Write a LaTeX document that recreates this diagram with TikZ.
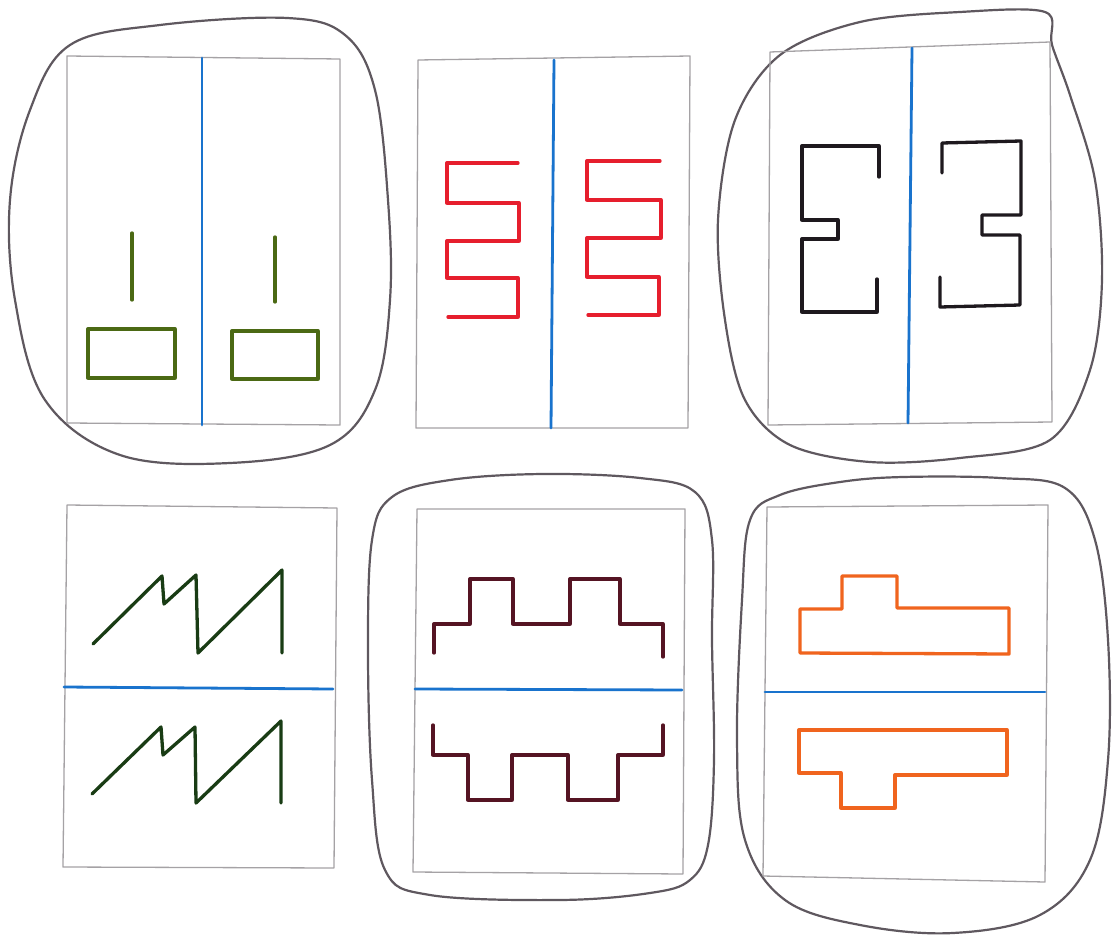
\documentclass[tikz,border=0pt]{standalone}
\begin{document}
\begin{tikzpicture}[x=1pt,y=-1pt,line join=round,line cap=round]
\definecolor{panelgray}{RGB}{165,162,165}
\definecolor{loopgray}{RGB}{95,88,95}
\definecolor{axisblue}{RGB}{25,115,205}
\definecolor{olive}{RGB}{75,105,20}
\definecolor{redline}{RGB}{230,30,45}
\definecolor{blackline}{RGB}{30,25,30}
\definecolor{darkgreen}{RGB}{25,60,20}
\definecolor{maroon}{RGB}{85,20,35}
\definecolor{orangeline}{RGB}{240,100,30}
\tikzset{
  panel/.style={draw=panelgray,line width=1.3pt},
  loop/.style={draw=loopgray,line width=2.2pt},
  axis/.style={draw=axisblue,line width=2.8pt},
  figline/.style={line width=3.3pt}
}
\fill[white] (0,0) rectangle (1113,936);
\useasboundingbox (0,0) rectangle (1113,936);

% ---------- Panel 1 ----------
\draw[loop] plot[smooth cycle,tension=0.6] coordinates {(287,18) (345,35) (375,90) (388,200) (390,300) (375,390) (330,445) (230,463) (120,455) (45,400) (15,300) (10,200) (30,110) (70,45) (160,25)};
\draw[panel] (67,56) -- (340,59) -- (340,425) -- (67,423) -- cycle;
\draw[axis] (202,58) -- (202,425);
\draw[figline,olive] (132,233) -- (132,300);
\draw[figline,olive] (275,237) -- (275,302);
\draw[figline,olive] (88,329) rectangle (175,378);
\draw[figline,olive] (232,331) rectangle (318,379);

% ---------- Panel 2 ----------
\draw[panel] (418,60) -- (690,56) -- (688,428) -- (416,428) -- cycle;
\draw[axis] (554,60) -- (551,428);
\draw[figline,redline] (518,163) -- (447,163) -- (447,203) -- (519,203) -- (519,241) -- (447,241) -- (447,278) -- (518,278) -- (518,317) -- (448,317);
\draw[figline,redline] (660,161) -- (587,161) -- (587,200) -- (661,200) -- (661,238) -- (587,238) -- (587,277) -- (659,277) -- (659,315) -- (588,315);

% ---------- Panel 3 ----------
\draw[loop] plot[smooth cycle,tension=0.55] coordinates {(1045,12) (1052,45) (1070,95) (1095,180) (1102,280) (1090,370) (1050,440) (960,458) (870,462) (790,445) (745,400) (725,320) (718,220) (735,120) (780,55) (860,22) (960,12)};
\draw[panel] (770,52) -- (1050,42) -- (1052,422) -- (768,425) -- cycle;
\draw[axis] (912,48) -- (908,423);
\draw[figline,blackline] (879,177) -- (879,146) -- (802,146) -- (802,220) -- (838,220) -- (838,239) -- (802,239) -- (802,312) -- (877,312) -- (877,279);
\draw[figline,blackline] (942,173) -- (942,143) -- (1021,141) -- (1021,215) -- (982,215) -- (982,235) -- (1020,235) -- (1020,305) -- (940,307) -- (940,277);

% ---------- Panel 4 ----------
\draw[panel] (67,505) -- (337,508) -- (334,868) -- (63,867) -- cycle;
\draw[axis] (64,687) -- (333,689);
\draw[figline,darkgreen] (93,644) -- (162,576) -- (164,604) -- (196,575) -- (198,653) -- (282,570) -- (282,653);
\draw[figline,darkgreen] (92,794) -- (161,727) -- (163,755) -- (195,727) -- (196,803) -- (281,721) -- (281,803);

% ---------- Panel 5 ----------
\draw[loop] plot[smooth cycle,tension=0.6] coordinates {(543,474) (640,478) (695,492) (712,540) (712,640) (714,760) (708,845) (690,880) (650,893) (560,900) (430,895) (385,870) (372,780) (368,650) (372,540) (392,497) (450,480)};
\draw[panel] (417,509) -- (685,509) -- (683,874) -- (413,872) -- cycle;
\draw[axis] (415,689) -- (682,690);
\draw[figline,maroon] (434,653) -- (434,624) -- (470,624) -- (470,579) -- (513,579) -- (513,624) -- (570,624) -- (570,579) -- (620,579) -- (620,624) -- (663,624) -- (663,657);
\draw[figline,maroon] (433,725) -- (433,755) -- (468,755) -- (468,800) -- (512,800) -- (512,755) -- (568,755) -- (568,800) -- (618,800) -- (618,755) -- (663,755) -- (663,725);

% ---------- Panel 6 ----------
\draw[loop] plot[smooth cycle,tension=0.6] coordinates {(903,477) (1000,478) (1065,488) (1095,540) (1108,640) (1108,760) (1090,860) (1040,915) (953,933) (860,925) (785,900) (745,840) (737,740) (742,600) (750,520) (780,495) (840,482)};
\draw[panel] (767,507) -- (1048,505) -- (1045,882) -- (763,876) -- cycle;
\draw[axis] (765,692) -- (1045,692);
\draw[figline,orangeline] (800,653) -- (800,609) -- (842,609) -- (842,576) -- (897,576) -- (897,608) -- (1009,608) -- (1009,654) -- cycle;
\draw[figline,orangeline] (799,730) -- (1007,730) -- (1007,775) -- (895,775) -- (895,808) -- (841,808) -- (841,773) -- (799,773) -- cycle;
\end{tikzpicture}
\end{document}
